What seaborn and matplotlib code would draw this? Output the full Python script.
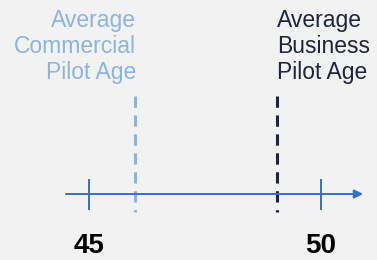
import matplotlib
matplotlib.use("Agg")
import matplotlib.pyplot as plt
import seaborn as sns

# chart data
tick_values = [45, 50]
tick_labels = ["45", "50"]
pilot_groups = ["Average\nCommercial\nPilot Age", "Average\nBusiness\nPilot Age"]
pilot_ages = [46, 49.05]

sns.set_style("white")
plt.rcParams["font.family"] = ["Liberation Sans", "DejaVu Sans"]

bg = "#f2f2f2"
axis_blue = "#2f72c8"
line_colors = ["#8cb4e2", "#1f2440"]
text_colors = ["#8cb4e2", "#1f2440"]

fig = plt.figure(figsize=(3.77, 2.6), dpi=100, facecolor=bg)
ax = fig.add_axes([0, 0, 1, 1], facecolor=bg)

# number line in data units, vertical in pixel-like units (0 at top)
ax.set_xlim(43.078, 51.22)
ax.set_ylim(260, 0)
ax.axis("off")

axis_y = 194

ax.annotate(
    "",
    xy=(50.92, axis_y),
    xytext=(44.5, axis_y),
    arrowprops=dict(arrowstyle="-|>", color=axis_blue, lw=1.4,
                    mutation_scale=13, shrinkA=0, shrinkB=0),
)

ax.vlines(tick_values, 179, 210, color=axis_blue, lw=1.4)

for v, lab in zip(tick_values, tick_labels):
    ax.text(v, 246, lab, ha="center", va="center",
            fontsize=20, fontweight="bold", color="black")

# average age markers
for i, (age, name) in enumerate(zip(pilot_ages, pilot_groups)):
    ax.plot([age, age], [96, 212], color=line_colors[i], lw=2.2,
            dashes=(3.7, 2.5))
    ax.text(age + 0.02, 9, name,
            ha="right" if i == 0 else "left", va="top",
            fontsize=16.5, color=text_colors[i], linespacing=1.18,
            multialignment="right" if i == 0 else "left")

fig.savefig("out.png", dpi=100, facecolor=bg)
